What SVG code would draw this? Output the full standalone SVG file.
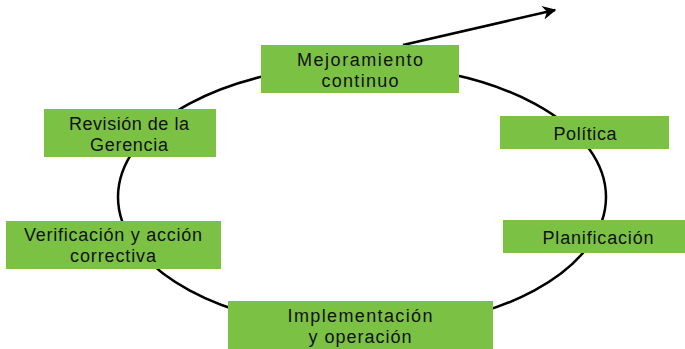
<svg xmlns="http://www.w3.org/2000/svg" width="685" height="349" viewBox="0 0 685 349">
<defs>
<marker id="ah" viewBox="0 0 10 10" refX="9" refY="5" markerWidth="5.5" markerHeight="5.5" orient="auto" markerUnits="strokeWidth">
<path d="M0,0 L10,5 L0,10 L3,5 Z" fill="#000"/>
</marker>
</defs>
<style>
.box{fill:#7bc143}
.t{font-family:"Liberation Sans",Arial,sans-serif;font-size:18px;fill:#111;text-anchor:middle}
.c{fill:none;stroke:#000;stroke-width:2.5}
</style>
<rect width="685" height="349" fill="#fff"/>
<g id="connectors">
<ellipse class="c" cx="362" cy="197" rx="244" ry="132"/>
<line class="c" x1="403" y1="45" x2="555" y2="10" marker-end="url(#ah)"/>
</g>
<g id="mejoramiento">
<rect class="box" x="261" y="45" width="198" height="48"/>
<text class="t" x="360" y="66" textLength="126" lengthAdjust="spacing">Mejoramiento</text>
<text class="t" x="360" y="87" textLength="77" lengthAdjust="spacing">continuo</text>
</g>
<g id="revision">
<rect class="box" x="44" y="109" width="172" height="48"/>
<text class="t" x="129" y="130" textLength="120" lengthAdjust="spacing">Revisión de la</text>
<text class="t" x="129" y="151" textLength="78" lengthAdjust="spacing">Gerencia</text>
</g>
<g id="verificacion">
<rect class="box" x="6" y="221" width="215" height="48"/>
<text class="t" x="113" y="241" textLength="178" lengthAdjust="spacing">Verificación y acción</text>
<text class="t" x="113" y="262" textLength="86" lengthAdjust="spacing">correctiva</text>
</g>
<g id="politica">
<rect class="box" x="500" y="116" width="169" height="33"/>
<text class="t" x="585" y="140" textLength="63" lengthAdjust="spacing">Política</text>
</g>
<g id="planificacion">
<rect class="box" x="503" y="220" width="182" height="33"/>
<text class="t" x="598" y="244" textLength="111" lengthAdjust="spacing">Planificación</text>
</g>
<g id="implementacion">
<rect class="box" x="228" y="301" width="265" height="48"/>
<text class="t" x="360" y="322" textLength="145" lengthAdjust="spacing">Implementación</text>
<text class="t" x="360" y="343" textLength="103" lengthAdjust="spacing">y operación</text>
</g>
</svg>
